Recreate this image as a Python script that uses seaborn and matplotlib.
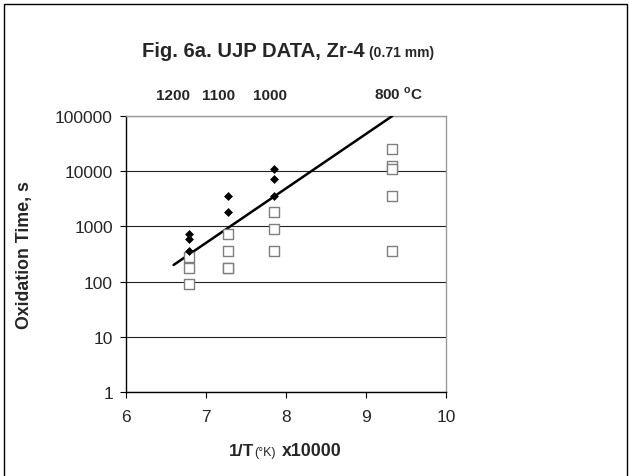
import numpy as np
import pandas as pd
import matplotlib
matplotlib.use("Agg")
import matplotlib.pyplot as plt
import matplotlib.ticker as mticker
import matplotlib.transforms as mtransforms
from matplotlib.patches import Rectangle
import seaborn as sns

# data
# x = 1/T(K) x10000 for 1200, 1100, 1000, 800 C
diamond_x = [6.79, 6.79, 6.79, 7.28, 7.28, 7.855, 7.855, 7.855]
diamond_y = [720, 600, 360, 3600, 1800, 10800, 7200, 3600]

square_x = [6.79, 6.79, 6.79, 7.28, 7.28, 7.28, 7.28, 7.855, 7.855, 7.855,
            9.32, 9.32, 9.32, 9.32, 9.32]
square_y = [280, 180, 90, 720, 360, 180, 180, 1800, 900, 360,
            25200, 12600, 10800, 3600, 360]

line_x = [6.6, 9.33]
line_y = [200, 100000]

temp_labels = ["1200", "1100", "1000", "800 $^{\\mathbf{o}}$C"]
temp_pos = [6.593, 7.167, 7.803, 9.10]

yticks = [1, 10, 100, 1000, 10000, 100000]
xticks = [6, 7, 8, 9, 10]

sns.set_style("white")
plt.rcParams['font.family'] = ['Liberation Sans', 'DejaVu Sans']
plt.rcParams['mathtext.fontset'] = 'custom'
plt.rcParams['mathtext.rm'] = 'Liberation Sans'
plt.rcParams['mathtext.bf'] = 'Liberation Sans:bold'

fig = plt.figure(figsize=(6.29, 4.77), dpi=100)
ax = fig.add_axes([125.5 / 629, 84 / 477, 320.5 / 629, 276 / 477])

df_d = pd.DataFrame({'x': diamond_x, 'y': diamond_y})
df_s = pd.DataFrame({'x': square_x, 'y': square_y})

sns.lineplot(x=line_x, y=line_y, ax=ax, color='black', lw=1.8, zorder=3)
sns.scatterplot(data=df_s, x='x', y='y', ax=ax, marker='s', s=56, color='white',
                edgecolor='#7f7f7f', linewidth=1.0, zorder=4)
sns.scatterplot(data=df_d, x='x', y='y', ax=ax, marker='D', s=16, color='black',
                edgecolor='black', linewidth=0.5, zorder=5)

ax.set_yscale('log')
ax.set_ylim(1, 100000)
ax.set_xlim(6, 10)
ax.set_yticks(yticks)
ax.yaxis.set_major_formatter(mticker.FuncFormatter(lambda v, p: f"{int(v)}"))
ax.yaxis.set_minor_locator(mticker.NullLocator())
ax.set_xticks(xticks)
ax.tick_params(axis='both', labelsize=12.5, length=4, width=0.8, color='black')
ax.tick_params(axis='y', pad=5, left=True)
ax.tick_params(axis='x', pad=8, bottom=True)

ax.grid(axis='y', color='#222222', lw=0.8)
ax.set_axisbelow(True)
for side in ['left', 'bottom']:
    ax.spines[side].set_color('black')
    ax.spines[side].set_linewidth(1.0)
for side in ['top', 'right']:
    ax.spines[side].set_color('#9a9a9a')
    ax.spines[side].set_linewidth(1.0)

ax.set_xlabel("")
ax.set_ylabel("Oxidation Time, s", fontsize=12.8, fontweight='bold')
ax.yaxis.set_label_coords(-0.289, 0.5)

# temperature labels above the plot
trans = mtransforms.blended_transform_factory(ax.transData, fig.transFigure)
for lab, xp in zip(temp_labels, temp_pos):
    ha = 'left' if 'C' in lab else 'center'
    ax.text(xp, 1 - 99.5 / 477, lab, transform=trans, ha=ha, va='baseline',
            fontsize=11, fontweight='bold')

# title
fig.text(365 / 629, 1 - 57 / 477, "Fig. 6a. UJP DATA, Zr-4", ha='right',
         va='baseline', fontsize=14.6, fontweight='bold')
fig.text(369 / 629, 1 - 57 / 477, "(0.71 mm)", ha='left', va='baseline',
         fontsize=10, fontweight='bold')

# x label
fig.text(254 / 629, 1 - 456 / 477, "1/T", ha='right', va='baseline',
         fontsize=12.5, fontweight='bold')
fig.text(254 / 629, 1 - 456 / 477, "(°K)", ha='left', va='baseline',
         fontsize=9)
fig.text(282 / 629, 1 - 456 / 477, "x10000", ha='left', va='baseline',
         fontsize=12.8, fontweight='bold')

# outer chart border
fig.patches.append(Rectangle((4 / 629, -0.05), 623 / 629, 1.05 - 5 / 477,
                             transform=fig.transFigure, fill=False,
                             edgecolor='black', lw=1.0))

fig.savefig("out.png", dpi=100)
